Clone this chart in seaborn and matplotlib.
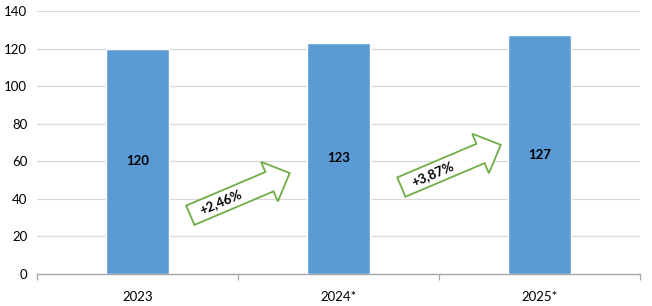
import numpy as np
import pandas as pd
import matplotlib
matplotlib.use("Agg")
import matplotlib.pyplot as plt
import matplotlib.transforms as mtransforms
from matplotlib.patches import Polygon
import seaborn as sns

categories = ["2023", "2024*", "2025*"]
values = [120, 123, 127]
value_labels = ["120", "123", "127"]
growth_labels = ["+2,46%", "+3,87%"]
yticks = [0, 20, 40, 60, 80, 100, 120, 140]

sns.set_theme(style="white")
plt.rcParams["font.family"] = ["Lato", "DejaVu Sans"]

df = pd.DataFrame({"year": categories, "value": values})

W, H = 652, 306
fig = plt.figure(figsize=(W / 100, H / 100), dpi=100)
ax = fig.add_axes([37 / W, 32 / H, (640 - 37) / W, (295 - 32) / H])

sns.barplot(data=df, x="year", y="value", color="#5B9BD5", saturation=1,
            width=0.31, ax=ax, zorder=3)

ax.set_ylim(0, 140)
ax.set_xlim(-0.5, 2.5)
ax.set_yticks(yticks)
ax.set_yticklabels([str(t) for t in yticks], fontsize=9.5, color="#000000")
ax.yaxis.grid(True, color="#D9D9D9", linewidth=0.9, zorder=0)
ax.set_axisbelow(True)
ax.set_xlabel("")
ax.set_ylabel("")
for s in ["top", "right", "left"]:
    ax.spines[s].set_visible(False)
ax.spines["bottom"].set_color("#A6A6A6")
ax.spines["bottom"].set_linewidth(1.0)
ax.tick_params(axis="y", length=0, pad=7)
ax.tick_params(axis="x", which="major", length=0, pad=12, labelsize=9.5, labelcolor="#000000")
ax.set_xticks([-0.5, 0.5, 1.5, 2.5], minor=True)
ax.tick_params(axis="x", which="minor", length=4, width=0.9, color="#A6A6A6", bottom=True)

for i, (v, lab) in enumerate(zip(values, value_labels)):
    ax.text(i, v / 2, lab, ha="center", va="center", fontsize=9.5,
            fontweight="bold", color="#000000", zorder=5)

# growth arrows (annotation shapes), anchored between bars
anchors = [(0.51, 42.5), (1.56, 57.5)]
ang = np.deg2rad(23)
L, sw, hw, hl = 108, 10.5, 21.5, 22
u = np.array([np.cos(ang), np.sin(ang)])
n = np.array([-np.sin(ang), np.cos(ang)])
local = [(0, -sw), (L - hl, -sw), (L - hl, -hw), (L, 0), (L - hl, hw), (L - hl, sw), (0, sw)]
ident = mtransforms.IdentityTransform()
for (ax_x, ax_y), glab in zip(anchors, growth_labels):
    c = ax.transData.transform((ax_x, ax_y))
    tail = c - u * L / 2
    pts = [tail + u * a + n * b for a, b in local]
    poly = Polygon(pts, closed=True, facecolor="white", edgecolor="#70AD47",
                   linewidth=1.3, transform=ident, zorder=6, joinstyle="miter")
    ax.add_patch(poly)
    tp = tail + u * (0.31 * L)
    ax.text(tp[0], tp[1], glab, transform=ident, rotation=23, rotation_mode="anchor",
            ha="center", va="center", fontsize=9.5, fontweight="bold",
            color="#000000", zorder=7)

fig.savefig("out.png", dpi=100, facecolor="white")
